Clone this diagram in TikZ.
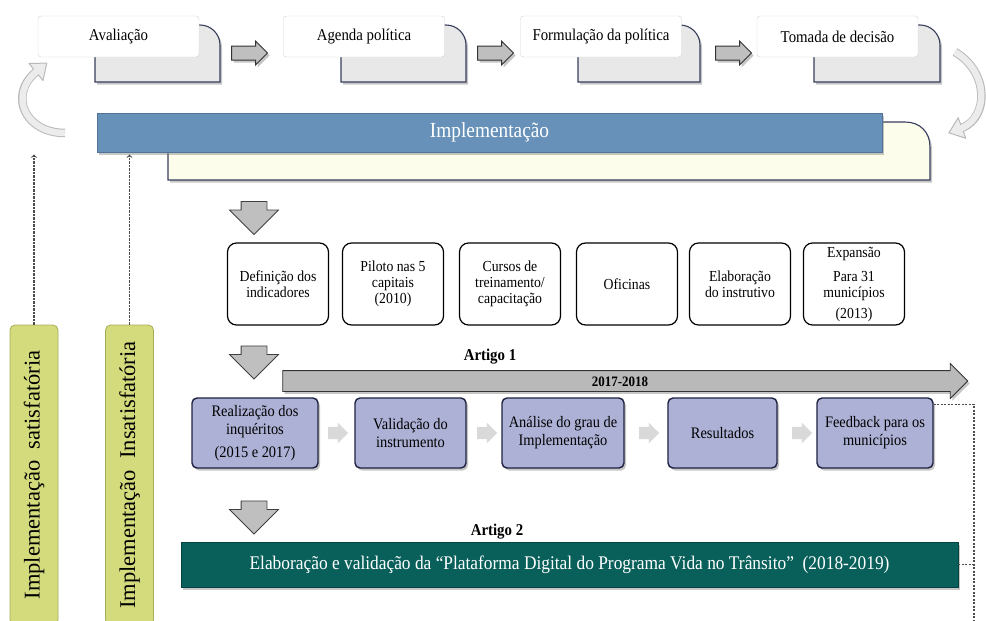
\documentclass[tikz,border=0pt]{standalone}
\usepackage{fontspec}
\setmainfont{Liberation Serif}[FakeStretch=0.9]
\newfontfamily\vertfont{Liberation Serif}
\usetikzlibrary{arrows,shapes,shadows,positioning}

\definecolor{implblue}{HTML}{6791B8}
\definecolor{implline}{HTML}{4F7399}
\definecolor{creamfill}{HTML}{FDFDEC}
\definecolor{navyline}{HTML}{383E5C}
\definecolor{lavfill}{HTML}{ADB1D6}
\definecolor{lavline}{HTML}{1E2140}
\definecolor{tealfill}{HTML}{09605B}
\definecolor{greenfill}{HTML}{D4DB7C}
\definecolor{greenline}{HTML}{A6AE55}

\tikzset{
  softshadow/.style={drop shadow={opacity=0.45, shadow xshift=2pt, shadow yshift=-2.5pt}},
  backbox/.style={draw=navyline, line width=1.1pt, fill=gray!18, softshadow},
  creambox/.style={draw=navyline, line width=1.1pt, fill=creamfill, softshadow},
  frontbox/.style={draw=gray!35, fill=white, rounded corners=3pt, minimum width=161pt,
    minimum height=41pt, font=\fontsize{16.5}{18}\selectfont},
  blockarrow/.style={single arrow, draw=black!80, fill=gray!50, line width=1pt,
    inner xsep=0pt, inner ysep=6.5pt, single arrow head extend=5pt, minimum height=36pt, softshadow},
  downarrow/.style={single arrow, draw=black!75, fill=gray!50, line width=0.8pt, rotate=-90,
    inner xsep=0pt, inner ysep=12.5pt, single arrow head extend=11.5pt, minimum height=33pt},
  smallarrow/.style={single arrow, draw=none, fill=gray!30,
    inner xsep=0pt, inner ysep=6pt, single arrow head extend=4pt, minimum height=20pt},
  implbar/.style={draw=implline, fill=implblue, text=white, minimum width=785pt,
    minimum height=39pt, font=\fontsize{21.5}{24}\selectfont, softshadow},
  actbox/.style={draw=black, line width=1.2pt, fill=white, rounded corners=9pt,
    minimum width=101pt, minimum height=82pt, align=center, inner sep=1pt,
    font=\fontsize{15.3}{16}\selectfont},
  stepbox/.style={draw=lavline, line width=1.4pt, fill=lavfill, rounded corners=5pt,
    minimum height=70pt, align=center, font=\fontsize{16}{18}\selectfont, softshadow},
  timearrow/.style={single arrow, draw=black!80, fill=gray!55, line width=0.8pt,
    text height=10pt, text depth=0pt, inner ysep=5pt, single arrow head extend=7pt,
    minimum height=685pt, font=\bfseries\fontsize{14.4}{16}\selectfont, softshadow},
  platbar/.style={draw=tealfill!70!black, fill=tealfill, text=white, minimum width=777pt,
    minimum height=45pt, font=\fontsize{19.3}{22}\selectfont, softshadow},
  resultbox/.style={draw=greenline, line width=0.8pt, fill=greenfill, rounded corners=5pt,
    rotate=90, minimum width=300pt, minimum height=48pt, font=\vertfont\fontsize{22.5}{24}\selectfont},
  title/.style={font=\bfseries\fontsize{16.5}{18}\selectfont},
  dashline/.style={draw=black!70, line width=1.1pt, dash pattern=on 2.2pt off 1.3pt},
  curvout/.style={draw=gray!55, line width=8.5pt},
  curvin/.style={draw=gray!15, line width=6.5pt},
  curvhead/.style={fill=gray!15, draw=gray!55, line width=1pt, line join=round}
}

\begin{document}
\begin{tikzpicture}[x=1pt, y=-1pt]
\useasboundingbox (0,0) rectangle (986,621);

% ciclo da politica
\foreach \xa/\xb in {95/220, 341/466, 578/700, 814/940}
  \path[backbox] (\xa,82) -- (\xa,25) -- (\xb-20,25) .. controls (\xb-9,25) and (\xb,34) .. (\xb,45) -- (\xb,82) -- cycle;

\node[frontbox] (aval) at (118.5,36.5) {Avaliação};
\node[frontbox] (agenda) at (364,36.5) {Agenda política};
\node[frontbox] (formul) at (601,36.5) {Formulação da política};
\node[frontbox] (tomada) at (837.5,36.5) {Tomada de decisão};

\node[blockarrow] (seta1) at (246,53) {};
\node[blockarrow] (seta2) at (492,53) {};
\node[blockarrow] (seta3) at (730,53) {};

% implementacao
\path[creambox] (168,180) -- (168,122) -- (905,122) .. controls (920,122) and (930,132) .. (930,147) -- (930,180) -- cycle;
\node[implbar] (impl) at (489.5,132.5) {Implementação};

% setas curvas
\coordinate (volta) at (65,133);
\coordinate (ida) at (955,52);
\draw[curvout] (volta) .. controls (25,133) and (8,95) .. (36,72);
\filldraw[curvhead] (43,80.5) -- (46.8,63.1) -- (29,63.5) -- cycle;
\draw[curvin] (volta) .. controls (25,133) and (8,95) .. (37,71);
\draw[curvout] (ida) .. controls (989,72) and (989,117) .. (962,128);
\filldraw[curvhead] (965.8,138.3) -- (948.9,132.8) -- (958.2,117.7) -- cycle;
\draw[curvin] (ida) .. controls (989,72) and (989,117) .. (961,128.4);

% etapas
\node[downarrow] (desce1) at (254,211.5) {};
\node[actbox] (defin) at (278,284) {Definição dos\\indicadores};
\node[actbox] (piloto) at (393,284) {Piloto nas 5\\capitais\\(2010)};
\node[actbox] (cursos) at (510,284) {Cursos de\\treinamento/\\capacitação};
\node[actbox] (ofic) at (627,284) {Oficinas};
\node[actbox] (instr) at (740,284) {Elaboração\\do instrutivo};
\node[actbox, inner sep=0pt] (expans) at (854,284) {Expansão\\[8pt]Para 31\\municípios\\[5pt](2013)};

% artigo 1
\node[downarrow] (desce2) at (254,356) {};
\node[title] (art1) at (490,357) {Artigo 1};
\node[timearrow] (periodo) at (620,381) {2017-2018};

\node[stepbox, minimum width=126pt] (inq) at (255,433) {Realização dos\\inquéritos\\[5pt](2015 e 2017)};
\node[stepbox, minimum width=111pt] (valid) at (410.5,433) {Validação do\\instrumento};
\node[stepbox, minimum width=122pt] (anal) at (563,433) {Análise do grau de\\Implementação};
\node[stepbox, minimum width=109pt] (result) at (722.5,433) {Resultados};
\node[stepbox, minimum width=116pt] (feed) at (875,433) {Feedback para os\\municípios};

\node[smallarrow] (p1) at (335,433) {};
\node[smallarrow] (p2) at (484,433) {};
\node[smallarrow] (p3) at (646,433) {};
\node[smallarrow] (p4) at (799,433) {};

% artigo 2
\node[downarrow] (desce3) at (254,511) {};
\node[title] (art2) at (497,532) {Artigo 2};
\node[platbar] (plat) at (569.5,564.5) {Elaboração e validação da “Plataforma Digital do Programa Vida no Trânsito”\ \ (2018-2019)};

% resultado da avaliacao
\node[resultbox] (satisf) at (34,475) {Implementação\ \ satisfatória};
\node[resultbox] (insat) at (129.5,475) {Implementação\ \ Insatisfatória};
\draw[dashline, ->] (satisf.east) -- ++(0,-170);
\draw[dashline, ->] (insat.east) -- ++(0,-170);

\coordinate (retorno) at (974,625);
\draw[dashline] ([yshift=-7pt]feed.north east) -| (retorno);
\draw[dashline] (plat.east) -- (plat.east -| retorno);
\end{tikzpicture}
\end{document}
